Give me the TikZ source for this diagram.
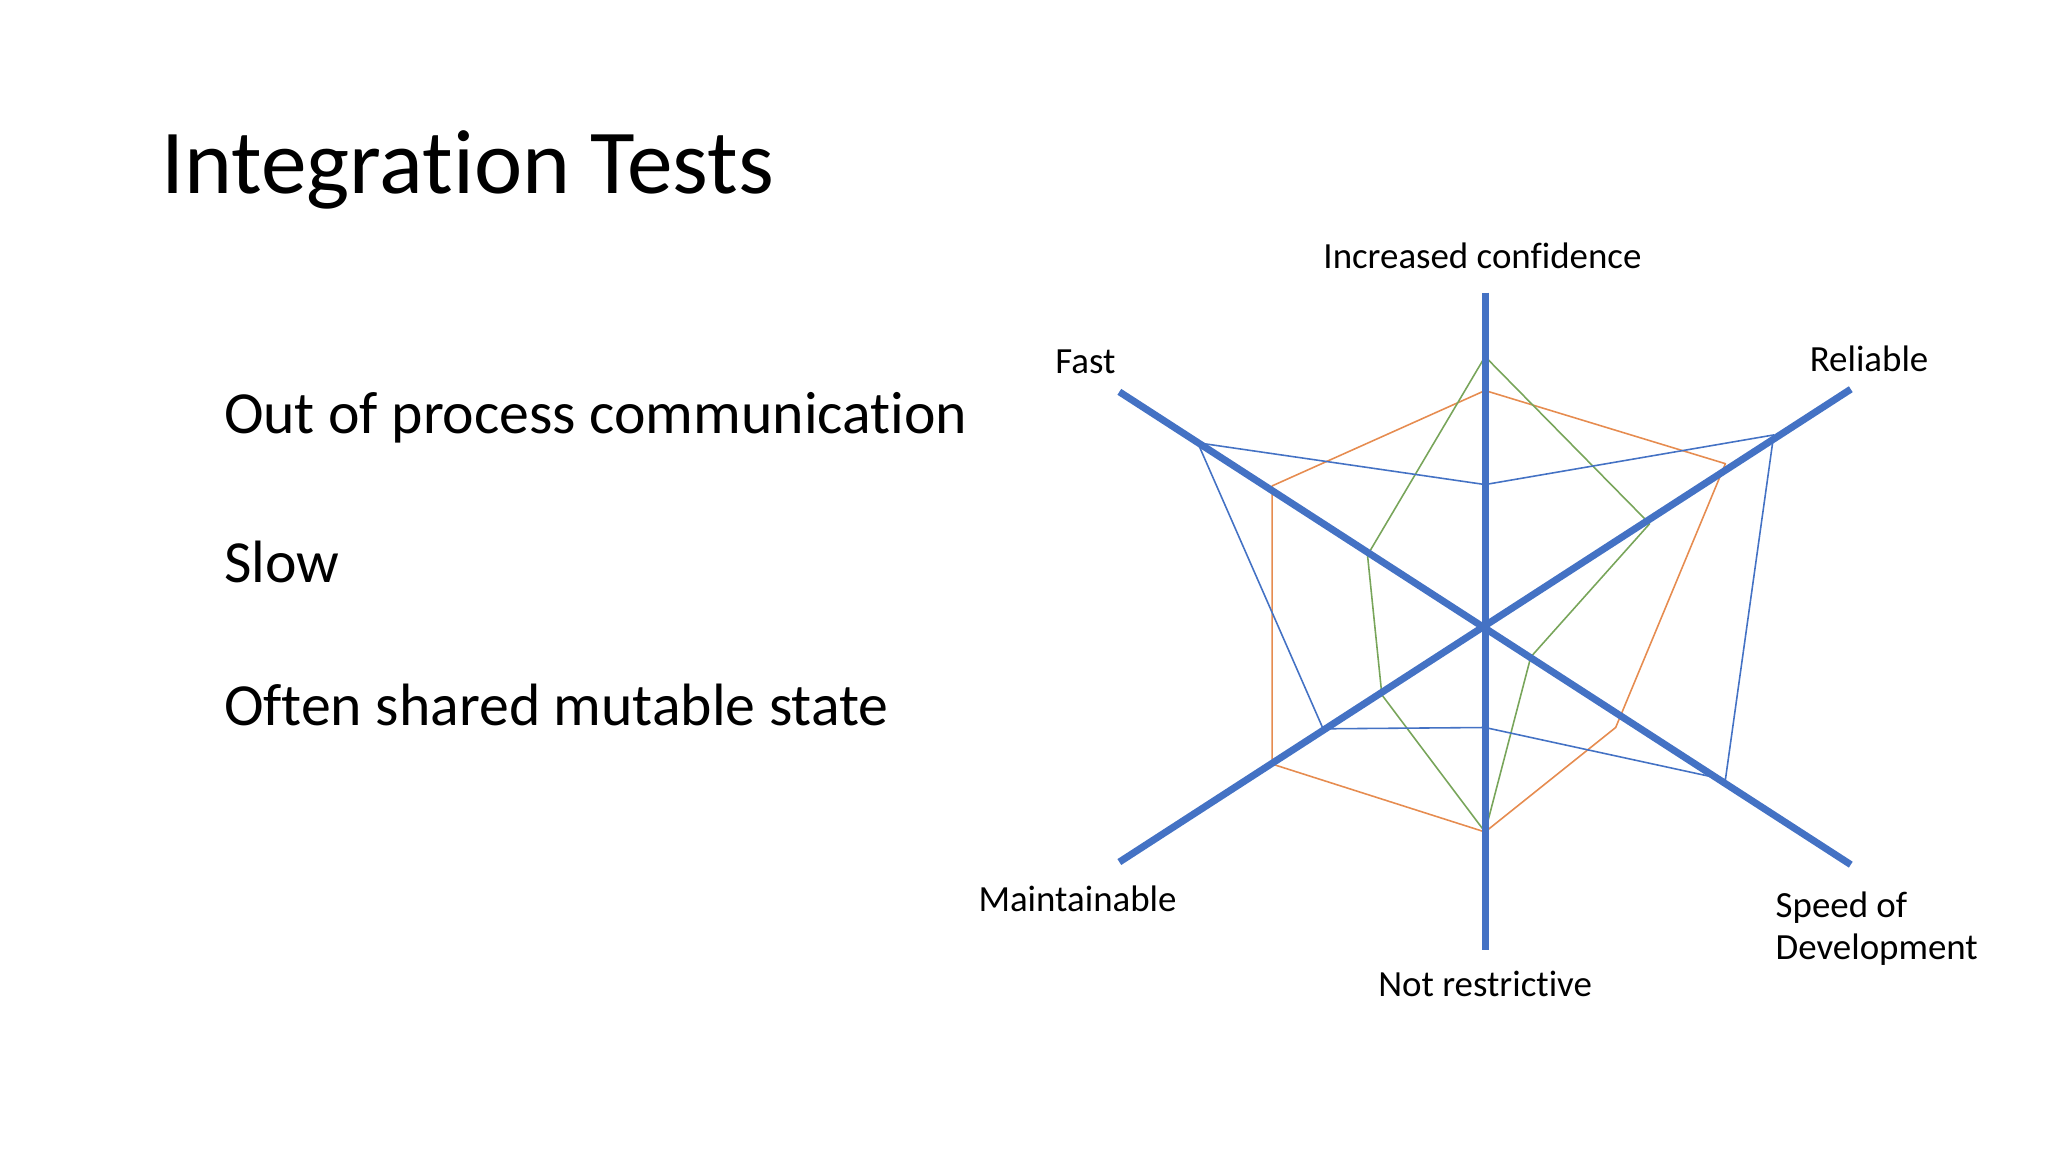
\documentclass[tikz,border=0pt]{standalone}
\usepackage{fontspec}
\setmainfont{Carlito}[Ligatures=NoCommon]
\usepackage{tikz}
\usetikzlibrary{positioning}
\definecolor{axisblue}{RGB}{68,114,196}
\definecolor{seriesorange}{RGB}{230,140,80}
\definecolor{seriesgreen}{RGB}{120,165,90}

\begin{document}
\begin{tikzpicture}[x=0.013061cm,y=-0.013061cm]
\tikzset{
 axisline/.style={axisblue,line width=2pt},
 serieline/.style={line width=0.45pt,line join=round},
 axislabel/.style={font=\fontsize{10.5}{12}\selectfont},
 bulletline/.style={anchor=west,font=\fontsize{17}{20}\selectfont}
}
\useasboundingbox (0,0) rectangle (1568,882);

\node (title)	at (114,130)	[anchor=west,font=\fontsize{26}{30}\selectfont] {Integration Tests};
\node (bullet1)	at (162,320)	[bulletline] {Out of process communication};
\node (bullet2)	at (162,430)	[bulletline] {Slow};
\node (bullet3)	at (162,540)	[bulletline] {Often shared mutable state};

\coordinate (centre)	at (1137,481);
\coordinate (top)		at (1137,224);
\coordinate (bottom)	at (1137,727);
\coordinate (upleft)	at (857,300);
\coordinate (upright)	at (1417,298);
\coordinate (lowleft)	at (857,660);
\coordinate (lowright)	at (1417,662);

% series
\draw [serieline,seriesorange] (1137,299) -- (1321,355) -- (1237,557) -- (1137,637) -- (974,585) -- (974,372) -- cycle ;
\draw [serieline,seriesgreen] (1137,273) -- (1263,401) -- (1172,503) -- (1137,637) -- (1058,532) -- (1047,425) -- cycle ;
\draw [serieline,axisblue] (1137,371) -- (1358,333) -- (1321,597) -- (1137,557) -- (1013,558) -- (917,339) -- cycle ;

% axes
\draw [axisline] (top) -- (bottom);
\draw [axisline] (upleft) -- (lowright);
\draw [axisline] (upright) -- (lowleft);

\node (lab_conf)	at (1135,196)	[axislabel] {Increased confidence};
\node (lab_fast)	at (831,277)	[axislabel] {Fast};
\node (lab_rel)		at (1431,275)	[axislabel] {Reliable};
\node (lab_maint)	at (825,688)	[axislabel] {Maintainable};
\node (lab_notres)	at (1137,753)	[axislabel] {Not restrictive};
\node (lab_speed)	at (1350,711)	[axislabel,anchor=west,align=left] {Speed of\\Development};

\end{tikzpicture}
\end{document}
